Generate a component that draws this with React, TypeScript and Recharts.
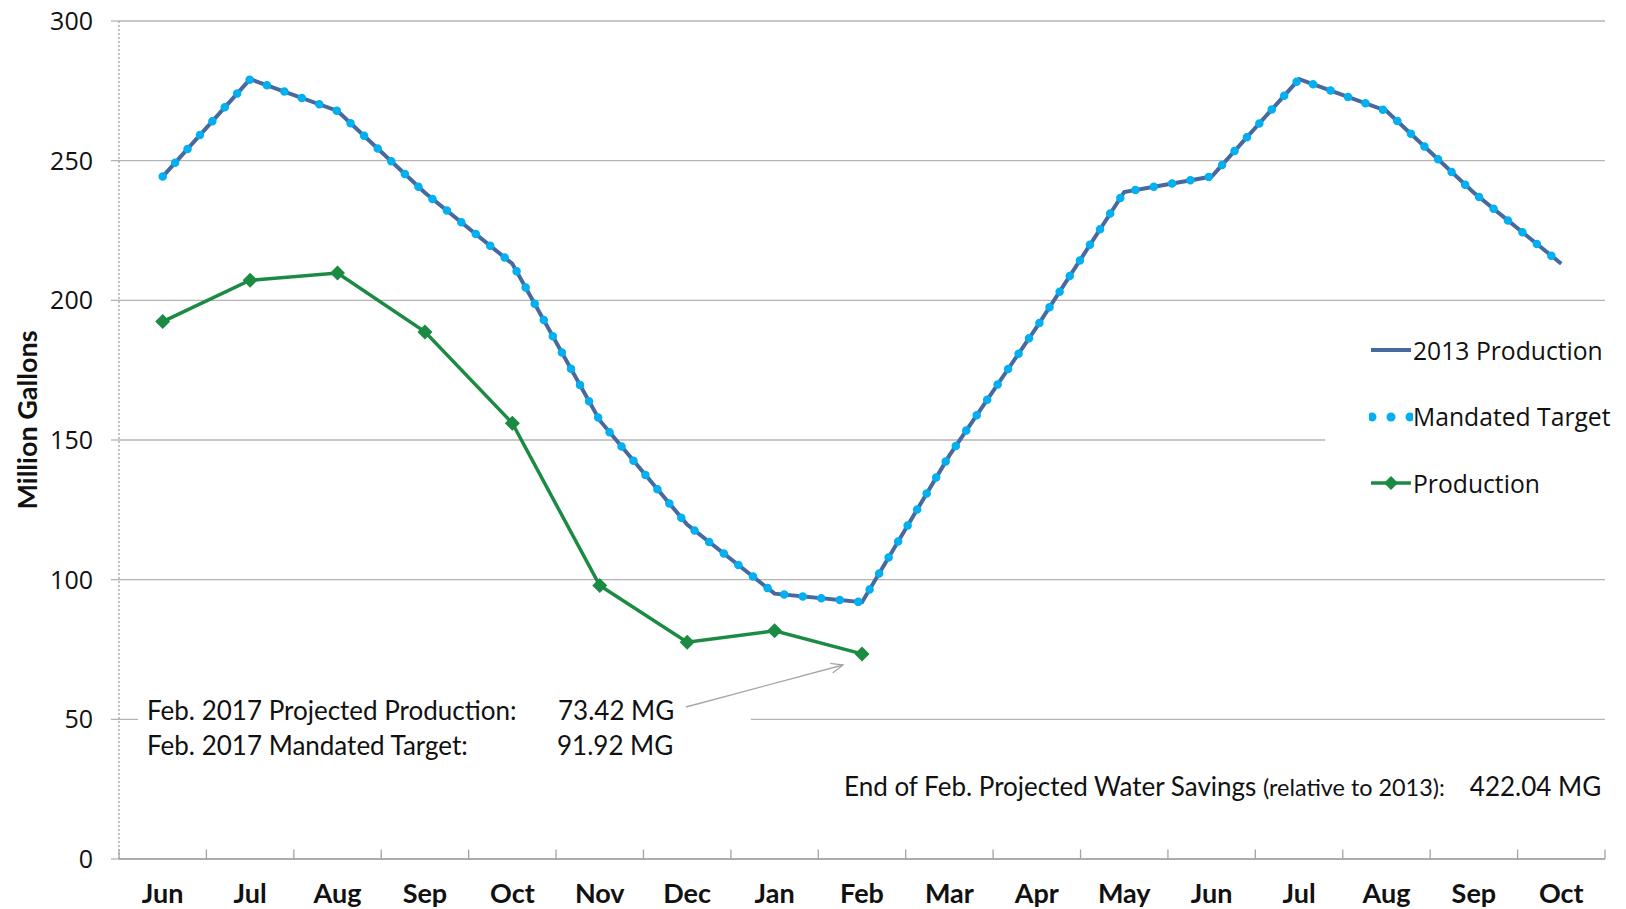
import React from "react";
import { LineChart, Line, XAxis, YAxis, CartesianGrid, Legend } from "recharts";

// monthly values, Jun (one year) through Oct (next year)
const months = ["Jun", "Jul", "Aug", "Sep", "Oct", "Nov", "Dec", "Jan", "Feb", "Mar", "Apr", "May", "Jun", "Jul", "Aug", "Sep", "Oct"];
const production2013 = [244.3, 279.2, 267.8, 238.5, 213.1, 157.0, 119.7, 95.0, 91.92, 144.5, 190.5, 238.8, 244.3, 279.2, 267.8, 238.5, 213.1];
const mandatedTarget = [244.3, 279.2, 267.8, 238.5, 213.1, 157.0, 119.7, 95.0, 91.92, 144.5, 190.5, 238.8, 244.3, 279.2, 267.8, 238.5, 213.1];
const production = [192.4, 207.2, 209.8, 188.7, 156.0, 97.9, 77.6, 81.7, 73.42];
const yTicks = [0, 50, 100, 150, 200, 250, 300];

const febProjected = "73.42 MG";
const febTarget = "91.92 MG";
const savings = "422.04 MG";

const data = months.map((month, i) => ({
  month,
  base2013: production2013[i],
  target: mandatedTarget[i],
  prod: i < production.length ? production[i] : null,
}));

const W = 1626;
const H = 909;
const MARGIN = { top: 21, right: 21, bottom: 0, left: 0 };
const Y_AXIS_W = 119;
const X_AXIS_H = 50;
// each month gets an equal slot; points sit in the middle of it
const BAND = (W - MARGIN.left - MARGIN.right - Y_AXIS_W) / months.length;

const BLUE = "#46699f";
const CYAN = "#00b0f0";
const GREEN = "#1b8a43";
const GRID = "#b4b4b4";
const AXIS = "#a3a3a3";
const CAL = "Lato, 'Noto Sans', sans-serif";
const SEG = "'Open Sans', 'Noto Sans', sans-serif";

const Diamond = (p: any) => {
  const { cx, cy, index, value } = p;
  if (cx == null || cy == null || value == null) return <g key={index} />;
  const r = 7.5;
  return <path key={index} d={`M${cx} ${cy - r}L${cx + r} ${cy}L${cx} ${cy + r}L${cx - r} ${cy}Z`} fill={GREEN} />;
};

// month label plus the small tick marks on the slot boundaries
const MonthTick = (p: any) => {
  const { x, y, payload, index } = p;
  const half = BAND / 2;
  const last = index === months.length - 1;
  return (
    <g>
      <line x1={x - half} y1={y} x2={x - half} y2={y - 9.5} stroke={AXIS} strokeWidth={1.3} />
      {last && <line x1={x + half} y1={y} x2={x + half} y2={y - 9.5} stroke={AXIS} strokeWidth={1.3} />}
      <text x={x} y={y + 24.5} dy="0.71em" textAnchor="middle" fontFamily={CAL} fontWeight={700} fontSize={27} fill="#111">
        {payload.value}
      </text>
    </g>
  );
};

const YTitle = (p: any) => {
  const vb = p.viewBox || { x: 0, y: 0, height: 0 };
  const x = vb.x + 26;
  const y = vb.y + vb.height / 2 - 20;
  return (
    <text x={x} y={y} transform={`rotate(-90 ${x} ${y})`} textAnchor="middle" dominantBaseline="central"
      fontFamily={CAL} fontWeight={700} fontSize={27} fill="#111">
      Million Gallons
    </text>
  );
};

const legendItems = [
  { label: "2013 Production", kind: "line" },
  { label: "Mandated Target", kind: "dots" },
  { label: "Production", kind: "diamond" },
];

const LegendIcon = ({ kind }: { kind: string }) => (
  <svg width={44} height={20} style={{ display: "block", flex: "none" }}>
    {kind === "line" && <line x1={2} y1={10} x2={42} y2={10} stroke={BLUE} strokeWidth={4} />}
    {kind === "dots" && [3, 22, 41].map((cx) => <circle key={cx} cx={cx} cy={10} r={4.5} fill={CYAN} />)}
    {kind === "diamond" && (
      <g>
        <line x1={2} y1={10} x2={42} y2={10} stroke={GREEN} strokeWidth={3.5} />
        <path d="M22 3L29 10L22 17L15 10Z" fill={GREEN} />
      </g>
    )}
  </svg>
);

const renderLegend = () => (
  <div style={{ background: "#fff", width: "100%", height: "100%" }}>
    {legendItems.map((it) => (
      <div key={it.label} style={{ display: "flex", alignItems: "center", height: 66.5, paddingLeft: 44 }}>
        <LegendIcon kind={it.kind} />
        <span style={{ fontFamily: SEG, fontSize: 24.7, color: "#111", whiteSpace: "nowrap" }}>{it.label}</span>
      </div>
    ))}
  </div>
);

const txt = (size: number, weight = 400): React.CSSProperties => ({
  position: "absolute",
  fontFamily: CAL,
  fontSize: size,
  fontWeight: weight,
  lineHeight: `${size * 1.2}px`,
  color: "#111",
  whiteSpace: "nowrap",
});

export default function App() {
  return (
    <div style={{ position: "relative", width: W, height: H, background: "#fff" }}>
      <style>{"body{margin:0;background:#fff}"}</style>
      <LineChart width={W} height={H} data={data} margin={MARGIN}>
        <CartesianGrid vertical={false} stroke={GRID} strokeWidth={1.3} />
        <XAxis
          dataKey="month"
          interval={0}
          height={X_AXIS_H}
          padding={{ left: BAND / 2, right: BAND / 2 }}
          axisLine={{ stroke: AXIS, strokeWidth: 1.3 }}
          tickLine={false}
          tickSize={0}
          tickMargin={0}
          tick={MonthTick}
        />
        <YAxis
          width={Y_AXIS_W}
          domain={[0, 300]}
          ticks={yTicks}
          interval={0}
          axisLine={{ stroke: AXIS, strokeWidth: 1.3, strokeDasharray: "2 2" }}
          tickLine={{ stroke: GRID, strokeWidth: 1.3 }}
          tickSize={8}
          tickMargin={18}
          tick={{ fontFamily: SEG, fontSize: 25, fill: "#111" }}
          label={<YTitle />}
        />
        <Legend
          layout="vertical"
          align="center"
          verticalAlign="middle"
          content={renderLegend}
          wrapperStyle={{ left: 1325, top: 317, width: 301, height: 200 }}
        />
        <Line dataKey="base2013" name="2013 Production" stroke={BLUE} strokeWidth={4} dot={false} type="linear" isAnimationActive={false} />
        <Line
          dataKey="target"
          name="Mandated Target"
          stroke={CYAN}
          strokeWidth={8.5}
          strokeLinecap="round"
          strokeDasharray="0 18.6"
          dot={false}
          type="linear"
          isAnimationActive={false}
        />
        <Line dataKey="prod" name="Production" stroke={GREEN} strokeWidth={3.5} dot={Diamond} type="linear" isAnimationActive={false} />
      </LineChart>

      {/* annotation block; white box hides the 50 gridline behind it */}
      <div style={{ position: "absolute", left: 138, top: 690, width: 613, height: 72, background: "#fff" }} />
      <div style={{ ...txt(26), left: 147, top: 711 - 26 * 0.63 }}>Feb. 2017 Projected Production:</div>
      <div style={{ ...txt(26), left: 558, top: 711 - 26 * 0.63 }}>{febProjected}</div>
      <div style={{ ...txt(26), left: 147, top: 746 - 26 * 0.63 }}>Feb. 2017 Mandated Target:</div>
      <div style={{ ...txt(26), left: 557, top: 746 - 26 * 0.63 }}>{febTarget}</div>
      <svg width={W} height={H} style={{ position: "absolute", left: 0, top: 0, pointerEvents: "none" }}>
        <defs>
          <marker id="arr" markerWidth={14} markerHeight={12} refX={13} refY={6} orient="auto" markerUnits="userSpaceOnUse">
            <path d="M1 1L13 6L1 11" fill="none" stroke="#a6a6a6" strokeWidth={1.3} />
          </marker>
        </defs>
        <line x1={686} y1={707} x2={843} y2={665} stroke="#a6a6a6" strokeWidth={1.3} markerEnd="url(#arr)" />
      </svg>

      <div style={{ ...txt(26), left: 844, top: 787 - 26 * 0.63 }}>
        End of Feb. Projected Water Savings{" "}
        <span style={{ fontSize: 23.4 }}>(relative to 2013):</span>
        <span style={{ display: "inline-block", width: 25 }} />
        {savings}
      </div>
    </div>
  );
}
